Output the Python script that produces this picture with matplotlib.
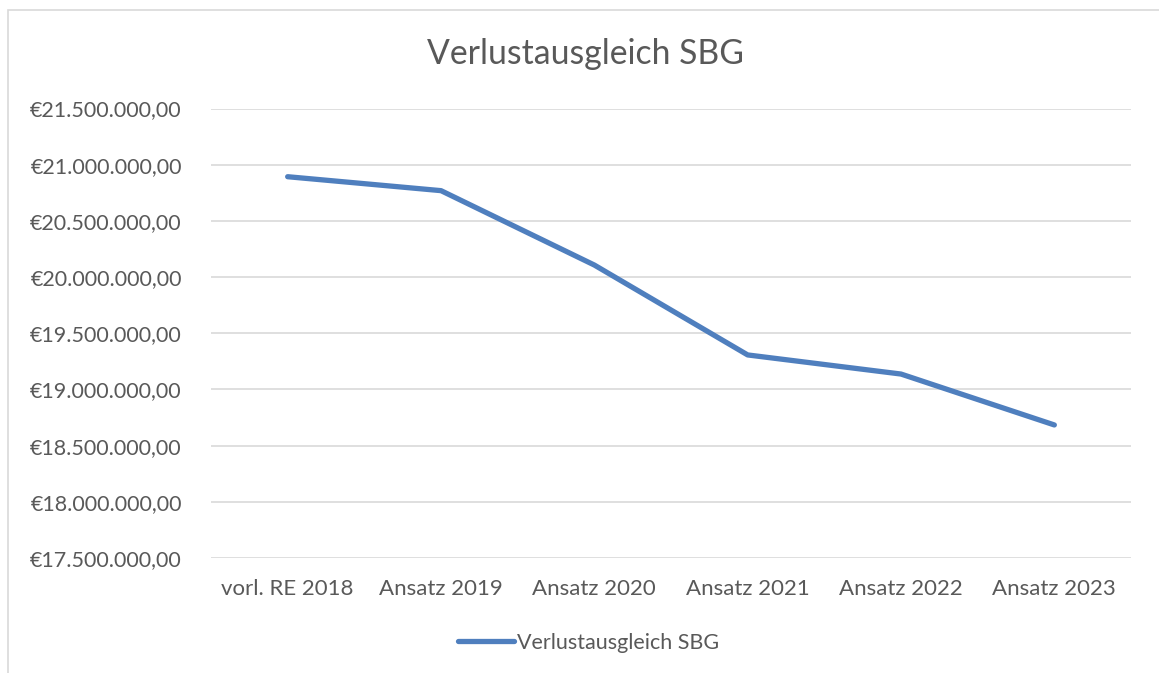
import matplotlib
matplotlib.use("Agg")
import matplotlib.pyplot as plt
from matplotlib.ticker import FuncFormatter
from matplotlib.patches import Rectangle
from matplotlib.lines import Line2D

categories = ["vorl. RE 2018", "Ansatz 2019", "Ansatz 2020", "Ansatz 2021", "Ansatz 2022", "Ansatz 2023"]
values = [20893000, 20769000, 20107000, 19307000, 19137000, 18684000]
series_name = "Verlustausgleich SBG"
title = "Verlustausgleich SBG"
y_ticks = [17500000, 18000000, 18500000, 19000000, 19500000, 20000000, 20500000, 21000000, 21500000]

plt.rcParams['font.family'] = ['Lato', 'DejaVu Sans']
text_color = '#595959'
line_color = '#4f7fbe'

fig = plt.figure(figsize=(11.59, 6.73), dpi=100)
ax = fig.add_axes([211/1159, 1-558/673, (1131-211)/1159, (558-108.5)/673])

x = list(range(len(categories)))
ax.plot(x, values, color=line_color, lw=3.8, solid_capstyle='round', solid_joinstyle='round', zorder=3)

ax.set_xlim(-0.5, len(categories)-0.5)
ax.set_ylim(y_ticks[0], y_ticks[-1])
ax.set_yticks(y_ticks)
ax.set_xticks(x)
ax.set_xticklabels(categories)

def fmt(v, pos):
    s = f"{v:,.2f}"
    s = s.replace(",", "X").replace(".", ",").replace("X", ".")
    return "€" + s
ax.yaxis.set_major_formatter(FuncFormatter(fmt))

ax.grid(axis='y', color='#d9d9d9', lw=1.2)
ax.set_axisbelow(True)
for sp in ax.spines.values():
    sp.set_visible(False)
ax.tick_params(axis='y', length=0, labelsize=15.5, colors=text_color, pad=21)
ax.tick_params(axis='x', length=0, labelsize=16, colors=text_color, pad=15)

fig.text(585/1159, 1-54/673, title, ha='center', va='center', fontsize=24.3, color=text_color)

handle = Line2D([], [], color=line_color, lw=3.8, solid_capstyle='round')
fig.legend([handle], [series_name], loc='center', bbox_to_anchor=(0.508, 1-643/673),
           frameon=False, fontsize=15.5, handlelength=2.6, handletextpad=0.15,
           labelcolor=text_color)

fig.patches.append(Rectangle((8/1159, -0.1), 1.2, 1.1-10/673, transform=fig.transFigure,
                             fill=False, edgecolor='#d9d9d9', lw=1.2, zorder=0))

fig.savefig("out.png", dpi=100)
